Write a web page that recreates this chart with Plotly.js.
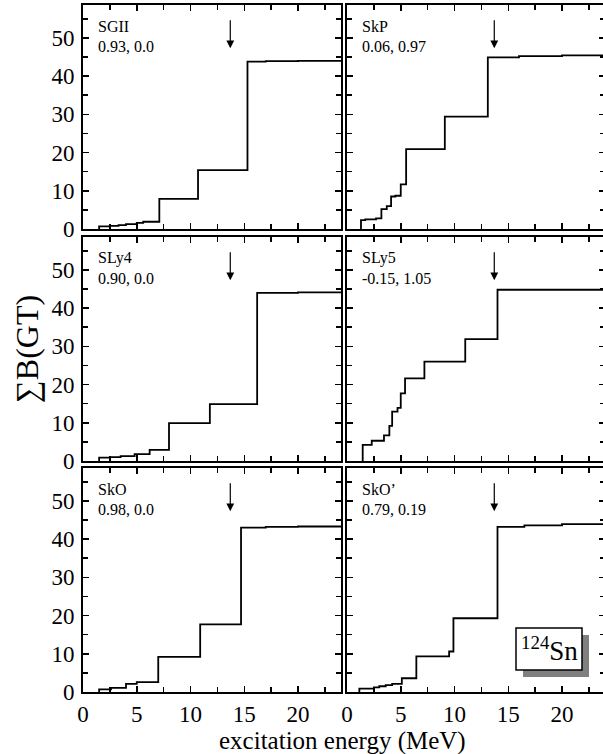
<!DOCTYPE html>
<html>
<head>
<meta charset="utf-8">
<script src="https://cdn.plot.ly/plotly-3.0.1.min.js"></script>
<style>
html,body{margin:0;padding:0;overflow:hidden;background:#fff;}
#chart{width:606px;height:754px;}
</style>
</head>
<body>
<div id="chart"></div>
<script>
// ---- data ----
const models = ["SGII", "SkP", "SLy4", "SLy5", "SkO", "SkO’"];
const params = ["0.93, 0.0", "0.06, 0.97", "0.90, 0.0", "-0.15, 1.05", "0.98, 0.0", "0.79, 0.19"];

const sgiiE = [1.5, 2.5, 3.3, 4.0, 5.0, 5.6, 7.1, 10.7, 15.3, 17.0, 20.0];
const sgiiB = [0.7, 0.8, 1.0, 1.3, 1.6, 1.9, 7.9, 15.4, 43.8, 43.9, 44.0];

const skpE = [1.3, 1.7, 2.7, 3.2, 3.7, 4.1, 4.5, 5.0, 5.5, 9.1, 13.1, 16.0, 20.0];
const skpB = [2.3, 2.5, 2.8, 5.2, 6.0, 8.5, 8.7, 11.7, 20.9, 29.4, 44.9, 45.2, 45.4];

const sly4E = [1.5, 2.5, 3.5, 4.8, 6.2, 8.0, 11.8, 16.2, 20.0];
const sly4B = [0.9, 1.0, 1.3, 1.8, 2.9, 9.9, 14.9, 44.0, 44.1];

const sly5E = [1.46, 2.3, 3.44, 3.94, 4.2, 4.7, 5.0, 5.4, 7.2, 11.0, 14.0];
const sly5B = [4.2, 5.3, 6.7, 9.2, 12.9, 13.9, 17.7, 21.6, 26.0, 31.9, 44.8];

const skoE = [1.5, 2.6, 4.0, 5.0, 7.0, 10.9, 14.7, 17.0, 20.0];
const skoB = [0.7, 1.1, 2.1, 2.6, 9.2, 17.7, 43.0, 43.2, 43.3];

const skopE = [1.15, 2.5, 3.0, 3.6, 4.2, 5.1, 6.45, 9.5, 9.9, 14.0, 16.5, 20.0];
const skopB = [0.9, 1.2, 1.5, 1.8, 2.1, 3.6, 9.3, 10.6, 19.3, 43.2, 43.6, 43.9];

const seriesE = [sgiiE, skpE, sly4E, sly5E, skoE, skopE];
const seriesB = [sgiiB, skpB, sly4B, sly5B, skoB, skopB];

const arrowE = [13.7, 13.7, 13.7, 13.7, 13.7, 13.7];
const arrowTail = 55.0;
const arrowHead = 47.3;

const xTicks = [0, 5, 10, 15, 20];
const yTicks = [0, 10, 20, 30, 40, 50];
const xMax = 24;
const yMax = 58.6;
const nucleus = "<sup>124</sup>Sn";
const xTitle = "excitation energy (MeV)";
const yTitle = "∑B(GT)";

// ---- layout geometry ----
const W = 606, H = 754;
const L = 83, R = 605, T = 5, B = 692;
const pw = R - L, ph = B - T;
const px = v => (v - L) / pw;
const py = v => (B - v) / ph;
const colDom = [[px(83), px(341)], [px(347), px(605)]];
const rowDom = [[py(229), py(5)], [py(461), py(237)], [py(692), py(468)]];

const FONT = "Liberation Serif";
const traces = [];
const annotations = [];
const layout = {
  width: W, height: H,
  margin: {l: L, r: W - R, t: T, b: H - B, pad: 0},
  paper_bgcolor: "#fff", plot_bgcolor: "#fff",
  showlegend: false,
  font: {family: FONT, color: "#000"},
  shapes: [],
  annotations: annotations
};

for (let i = 0; i < 6; i++) {
  const r = Math.floor(i / 2), c = i % 2;
  const n = i + 1;
  const xa = "x" + (n === 1 ? "" : n), ya = "y" + (n === 1 ? "" : n);
  const xk = "xaxis" + (n === 1 ? "" : n), yk = "yaxis" + (n === 1 ? "" : n);
  const E = seriesE[i], Bv = seriesB[i];
  const xs = [E[0]].concat(E, [xMax]);
  const ys = [0].concat(Bv, [Bv[Bv.length - 1]]);
  traces.push({
    type: "scatter", mode: "lines", x: xs, y: ys,
    xaxis: xa, yaxis: ya,
    line: {shape: "hv", color: "#000", width: 1.8},
    hoverinfo: "skip"
  });
  layout[xk] = {
    domain: colDom[c], anchor: ya, range: [0, xMax],
    showline: true, linewidth: 2, linecolor: "#000", mirror: "ticks",
    ticks: "inside", ticklen: 6, tickwidth: 1.5, tickcolor: "#000",
    tickvals: xTicks, ticktext: xTicks.map(String),
    showticklabels: r === 2,
    tickfont: {family: FONT, size: 23, color: "#000"},
    minor: {tickvals: [2.5, 7.5, 12.5, 17.5, 22.5], ticks: "inside", ticklen: 5, tickwidth: 1.5, tickcolor: "#000", showgrid: false},
    showgrid: false, zeroline: false, fixedrange: true
  };
  layout[yk] = {
    domain: rowDom[r], anchor: xa, range: [0, yMax],
    showline: true, linewidth: 2, linecolor: "#000", mirror: "ticks",
    ticks: "inside", ticklen: 6, tickwidth: 1.5, tickcolor: "#000",
    tickvals: yTicks, ticktext: yTicks.map(String),
    showticklabels: c === 0,
    ticklabelstandoff: 2,
    tickfont: {family: FONT, size: 23, color: "#000"},
    minor: {tickvals: [5, 15, 25, 35, 45, 55], ticks: "inside", ticklen: 5, tickwidth: 1.5, tickcolor: "#000", showgrid: false},
    showgrid: false, zeroline: false, fixedrange: true
  };
  annotations.push({
    xref: xa + " domain", yref: ya + " domain", x: 0.05, y: 0.906,
    xanchor: "left", yanchor: "middle", showarrow: false,
    text: models[i], font: {family: FONT, size: 16, color: "#000"}
  });
  annotations.push({
    xref: xa + " domain", yref: ya + " domain", x: 0.05, y: 0.814,
    xanchor: "left", yanchor: "middle", showarrow: false,
    text: params[i], font: {family: FONT, size: 16, color: "#000"}
  });
  annotations.push({
    xref: xa, yref: ya, axref: xa, ayref: ya,
    x: arrowE[i], y: arrowHead, ax: arrowE[i], ay: arrowTail,
    showarrow: true, arrowhead: 2, arrowsize: 1.3, arrowwidth: 1.2, arrowcolor: "#000",
    text: ""
  });
}

annotations.push({
  xref: "paper", yref: "paper", x: px(342), y: py(741),
  xanchor: "center", yanchor: "middle", showarrow: false,
  text: xTitle, font: {family: FONT, size: 25, color: "#000"}
});
annotations.push({
  xref: "paper", yref: "paper", x: px(27), y: py(349),
  xanchor: "center", yanchor: "middle", showarrow: false, textangle: -90,
  text: yTitle, font: {family: FONT, size: 32, color: "#000"}
});

layout.shapes.push({
  type: "rect", xref: "paper", yref: "paper",
  x0: px(523), x1: px(589), y0: py(677), y1: py(635),
  fillcolor: "#808080", line: {width: 0}, layer: "above"
});
layout.shapes.push({
  type: "rect", xref: "paper", yref: "paper",
  x0: px(516), x1: px(582), y0: py(670), y1: py(628),
  fillcolor: "#fff", line: {width: 1.5, color: "#000"}, layer: "above"
});
annotations.push({
  xref: "paper", yref: "paper", x: px(549), y: py(649),
  xanchor: "center", yanchor: "middle", showarrow: false,
  text: nucleus, font: {family: FONT, size: 27, color: "#000"}
});

Plotly.newPlot("chart", traces, layout, {displayModeBar: false, staticPlot: true});
</script>
</body>
</html>
